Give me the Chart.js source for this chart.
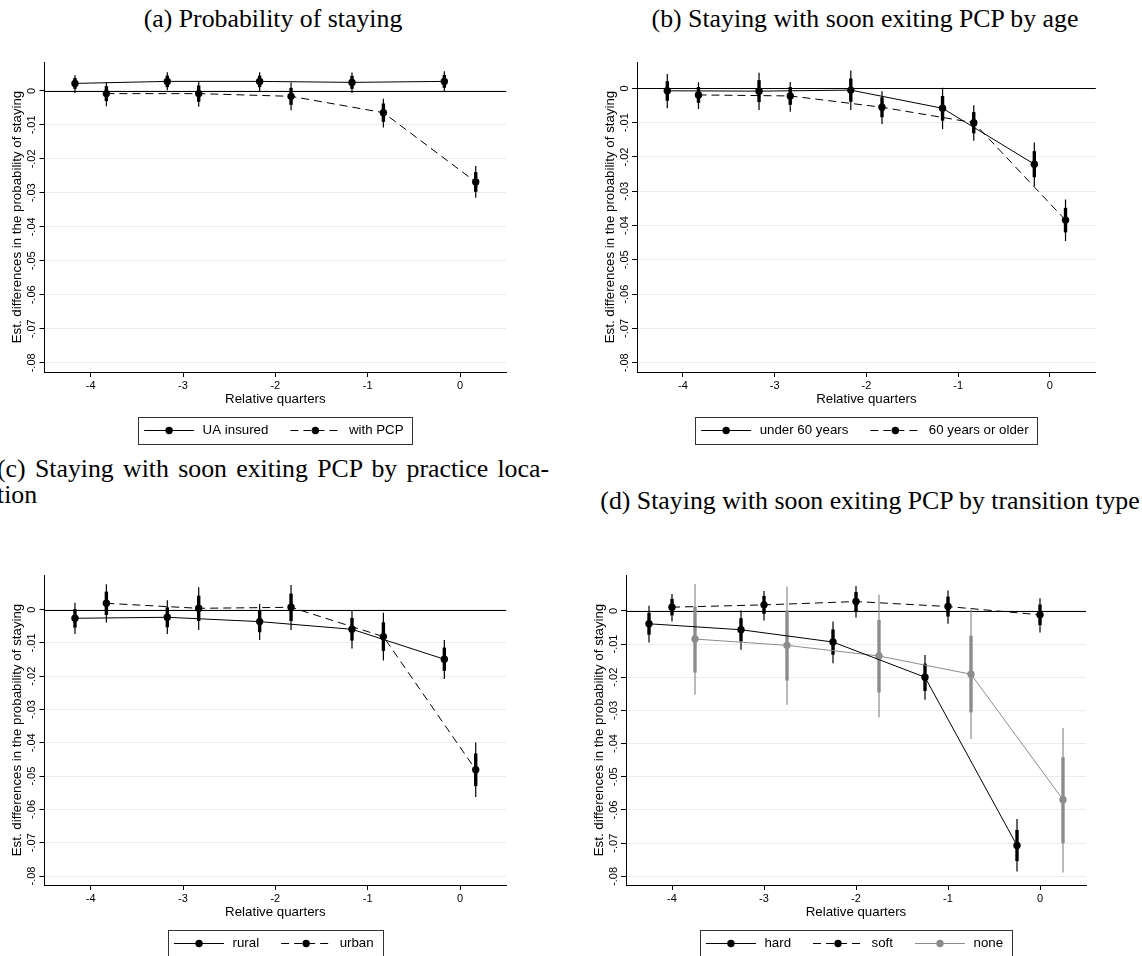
<!DOCTYPE html>
<html>
<head>
<meta charset="utf-8">
<script src="https://cdn.jsdelivr.net/npm/chart.js@4.4.1/dist/chart.umd.min.js"></script>
<style>
  html, body { margin: 0; padding: 0; background: #fff; overflow: hidden; }
  #page { position: relative; width: 1142px; height: 956px; overflow: hidden; }
  canvas { position: absolute; }
  .cap { position: absolute; font-family: 'Liberation Serif', 'Times New Roman', serif; font-size: 25.8px; line-height: 26px; color: #000; white-space: nowrap; }
  .just { white-space: normal; text-align: justify; text-align-last: justify; }
</style>
</head>
<body>
<div id="page">
  <div class="cap" style="left:-27px; top:6px; width:600px; text-align:center">(a) Probability of staying</div>
  <div class="cap" style="left:565px; top:6px; width:600px; text-align:center">(b) Staying with soon exiting PCP by age</div>
  <div class="cap just" style="left:-3px; top:456px; width:552px">(c) Staying with soon exiting PCP by practice loca-</div>
  <div class="cap" style="left:-3px; top:482px">tion</div>
  <div class="cap" style="left:570px; top:488px; width:600px; text-align:center">(d) Staying with soon exiting PCP by transition type</div>

  <canvas id="chartA" width="560" height="420" style="left:0; top:40px"></canvas>
  <canvas id="chartB" width="572" height="420" style="left:570px; top:40px"></canvas>
  <canvas id="chartC" width="560" height="416" style="left:0; top:540px"></canvas>
  <canvas id="chartD" width="572" height="416" style="left:570px; top:540px"></canvas>
</div>
<script>
// axis ticks shared by all panels
const xTicks = [-4, -3, -2, -1, 0];
const yTicks = [0, -0.01, -0.02, -0.03, -0.04, -0.05, -0.06, -0.07, -0.08];
const yTickLabels = ['0', '-.01', '-.02', '-.03', '-.04', '-.05', '-.06', '-.07', '-.08'];

// (a) Probability of staying
const xA_ua = [-4.17, -3.17, -2.17, -1.17, -0.17];
const estA_ua = [0.0022, 0.0028, 0.0028, 0.0025, 0.0028];
const hi99A_ua = [0.0046, 0.0055, 0.0055, 0.0054, 0.0058];
const lo99A_ua = [-0.0006, 0.0002, -0.0001, -0.0006, -0.0002];
const hi90A_ua = [0.0038, 0.0045, 0.0045, 0.0044, 0.0047];
const lo90A_ua = [0.0006, 0.0011, 0.0011, 0.0006, 0.0009];

const xA_pcp = [-3.83, -2.83, -1.83, -0.83, 0.17];
const estA_pcp = [-0.0008, -0.0008, -0.0016, -0.0064, -0.0268];
const hi99A_pcp = [0.0025, 0.0029, 0.0025, -0.0023, -0.0221];
const lo99A_pcp = [-0.0045, -0.0047, -0.0057, -0.0108, -0.0314];
const hi90A_pcp = [0.0014, 0.0016, 0.0009, -0.0037, -0.0239];
const lo90A_pcp = [-0.0030, -0.0032, -0.0041, -0.0091, -0.0297];

// (b) by age
const xB_young = [-4.17, -3.17, -2.17, -1.17, -0.17];
const estB_young = [-0.0007, -0.0008, -0.0005, -0.0058, -0.0221];
const hi99B_young = [0.0042, 0.0046, 0.0052, 0.0002, -0.0158];
const lo99B_young = [-0.0058, -0.0063, -0.0063, -0.0119, -0.0285];
const hi90B_young = [0.0021, 0.0024, 0.0029, -0.0022, -0.0183];
const lo90B_young = [-0.0036, -0.0040, -0.0039, -0.0094, -0.0259];

const xB_old = [-3.83, -2.83, -1.83, -0.83, 0.17];
const estB_old = [-0.0019, -0.0022, -0.0055, -0.0100, -0.0384];
const hi99B_old = [0.0018, 0.0019, -0.0008, -0.0049, -0.0324];
const lo99B_old = [-0.0060, -0.0068, -0.0104, -0.0153, -0.0445];
const hi90B_old = [0.0004, 0.0004, -0.0026, -0.0069, -0.0348];
const lo90B_old = [-0.0042, -0.0048, -0.0084, -0.0131, -0.0420];

// (c) by practice location
const xC_rural = [-4.17, -3.17, -2.17, -1.17, -0.17];
const estC_rural = [-0.0026, -0.0023, -0.0036, -0.0059, -0.0149];
const hi99C_rural = [0.0021, 0.0028, 0.0017, -0.0004, -0.0091];
const lo99C_rural = [-0.0073, -0.0073, -0.0091, -0.0117, -0.0208];
const hi90C_rural = [0.0002, 0.0007, -0.0004, -0.0025, -0.0114];
const lo90C_rural = [-0.0054, -0.0053, -0.0068, -0.0093, -0.0184];

const xC_urban = [-3.83, -2.83, -1.83, -0.83, 0.17];
const estC_urban = [0.0019, 0.0004, 0.0007, -0.0081, -0.0481];
const hi99C_urban = [0.0076, 0.0067, 0.0074, -0.0009, -0.0399];
const lo99C_urban = [-0.0039, -0.0061, -0.0061, -0.0153, -0.0563];
const hi90C_urban = [0.0054, 0.0042, 0.0048, -0.0038, -0.0432];
const lo90C_urban = [-0.0016, -0.0034, -0.0034, -0.0124, -0.0530];

// (d) by transition type
const xD_hard = [-4.25, -3.25, -2.25, -1.25, -0.25];
const estD_hard = [-0.0039, -0.0057, -0.0094, -0.0200, -0.0707];
const hi99D_hard = [0.0015, 0.0001, -0.0032, -0.0133, -0.0627];
const lo99D_hard = [-0.0095, -0.0117, -0.0158, -0.0268, -0.0785];
const hi90D_hard = [-0.0006, -0.0022, -0.0056, -0.0159, -0.0660];
const lo90D_hard = [-0.0072, -0.0092, -0.0132, -0.0241, -0.0754];

const xD_soft = [-4, -3, -2, -1, 0];
const estD_soft = [0.0011, 0.0018, 0.0028, 0.0013, -0.0012];
const hi99D_soft = [0.0051, 0.0060, 0.0075, 0.0061, 0.0038];
const lo99D_soft = [-0.0032, -0.0029, -0.0020, -0.0039, -0.0065];
const hi90D_soft = [0.0036, 0.0045, 0.0057, 0.0043, 0.0019];
const lo90D_soft = [-0.0014, -0.0009, -0.0001, -0.0017, -0.0043];

const xD_none = [-3.75, -2.75, -1.75, -0.75, 0.25];
const estD_none = [-0.0085, -0.0104, -0.0136, -0.0191, -0.0569];
const hi99D_none = [0.0081, 0.0073, 0.0049, 0.0004, -0.0353];
const lo99D_none = [-0.0253, -0.0283, -0.0321, -0.0386, -0.0788];
const hi90D_none = [0.0013, 0.0001, -0.0027, -0.0075, -0.0441];
const lo90D_none = [-0.0186, -0.0210, -0.0246, -0.0306, -0.0700];

const FONT = '"Liberation Sans", Arial, sans-serif';
Chart.defaults.font.family = FONT;
Chart.defaults.color = '#000';

const BLACK = '#000';
const GRAY = '#8c8c8c';
const DASH = [8, 5];
const TITLE_SIZE = 13.3;

function series(label, xs, est, lo99, hi99, lo90, hi90, color, dash) {
  return {
    label,
    data: xs.map((x, i) => ({ x, y: est[i] })),
    lo99, hi99, lo90, hi90,
    borderColor: color,
    backgroundColor: color,
    pointBackgroundColor: color,
    pointBorderColor: color,
    pointBorderWidth: 0,
    pointRadius: 3.7,
    borderWidth: 1,
    borderDash: dash || [],
    tension: 0
  };
}

// zero line + confidence spikes (thin = wide interval, thick = narrow interval)
const ciPlugin = {
  id: 'ciSpikes',
  beforeDatasetsDraw(chart) {
    const { ctx, chartArea: a, scales: { x, y } } = chart;
    ctx.save();
    const y0 = Math.round(y.getPixelForValue(0)) + 0.5;
    ctx.strokeStyle = '#000';
    ctx.lineWidth = 1;
    ctx.beginPath();
    ctx.moveTo(a.left, y0);
    ctx.lineTo(a.right, y0);
    ctx.stroke();
    chart.data.datasets.forEach(ds => {
      ctx.strokeStyle = ds.borderColor;
      ds.data.forEach((pt, i) => {
        const px = x.getPixelForValue(pt.x);
        ctx.lineWidth = 1.2;
        ctx.beginPath();
        ctx.moveTo(px, y.getPixelForValue(ds.hi99[i]));
        ctx.lineTo(px, y.getPixelForValue(ds.lo99[i]));
        ctx.stroke();
        ctx.lineWidth = 3.4;
        ctx.beginPath();
        ctx.moveTo(px, y.getPixelForValue(ds.hi90[i]));
        ctx.lineTo(px, y.getPixelForValue(ds.lo90[i]));
        ctx.stroke();
      });
    });
    ctx.restore();
  }
};

// rotated y tick labels, Stata style
const yLabelPlugin = {
  id: 'yLabels',
  afterDraw(chart) {
    const { ctx, scales: { y } } = chart;
    ctx.save();
    ctx.font = '11px ' + FONT;
    ctx.fillStyle = '#000';
    ctx.textAlign = 'center';
    ctx.textBaseline = 'middle';
    yTicks.forEach((v, i) => {
      ctx.save();
      ctx.translate(y.right - 12.5, y.getPixelForValue(v));
      ctx.rotate(-Math.PI / 2);
      ctx.fillText(yTickLabels[i], 0, 0);
      ctx.restore();
    });
    ctx.restore();
  }
};

// boxed legend below the x axis title
const legendPlugin = {
  id: 'boxLegend',
  afterDraw(chart) {
    const { ctx, chartArea: a } = chart;
    const items = chart.data.datasets;
    const sample = 50, gapText = 8.5, gapItem = 22, padL = 6, padR = 9, h = 27;
    ctx.save();
    ctx.font = TITLE_SIZE + 'px ' + FONT;
    const widths = items.map(d => ctx.measureText(d.label).width);
    const w = padL + padR + widths.reduce((s, tw) => s + sample + gapText + tw, 0) + gapItem * (items.length - 1);
    const left = (a.left + a.right) / 2 - w / 2;
    const top = a.bottom + 44.5;
    ctx.strokeStyle = '#333';
    ctx.lineWidth = 1;
    ctx.strokeRect(Math.round(left) + 0.5, Math.round(top) + 0.5, Math.round(w), h);
    const cy = Math.round(top + h / 2) + 0.5;
    let cx = left + padL;
    items.forEach((d, i) => {
      ctx.strokeStyle = d.borderColor;
      ctx.setLineDash(d.borderDash);
      ctx.beginPath();
      ctx.moveTo(cx, cy);
      ctx.lineTo(cx + sample, cy);
      ctx.stroke();
      ctx.setLineDash([]);
      ctx.fillStyle = d.pointBackgroundColor;
      ctx.beginPath();
      ctx.arc(cx + sample / 2, cy, 3.7, 0, Math.PI * 2);
      ctx.fill();
      ctx.fillStyle = '#000';
      ctx.textAlign = 'left';
      ctx.textBaseline = 'middle';
      ctx.fillText(d.label, cx + sample + gapText, cy);
      cx += sample + gapText + widths[i] + gapItem;
    });
    ctx.restore();
  }
};

function makePanel(id, cfg) {
  return new Chart(document.getElementById(id), {
    type: 'line',
    data: { datasets: cfg.datasets },
    options: {
      responsive: false,
      animation: false,
      devicePixelRatio: 1,
      layout: { padding: cfg.padding },
      plugins: { legend: { display: false }, tooltip: { enabled: false } },
      scales: {
        x: {
          type: 'linear',
          min: -4.5,
          max: 0.5,
          afterBuildTicks: s => { s.ticks = xTicks.map(v => ({ value: v })); },
          afterFit: s => { s.height = 40; },
          grid: { drawOnChartArea: false, drawTicks: true, tickLength: 5, tickColor: '#000' },
          border: { display: true, color: '#000', width: 1 },
          ticks: { color: '#000', font: { size: 11 }, padding: 2.7, maxRotation: 0, autoSkip: false, callback: v => String(v) },
          title: { display: true, text: 'Relative quarters', color: '#000', font: { size: TITLE_SIZE }, padding: { top: 0, bottom: 4.3 } }
        },
        y: {
          type: 'linear',
          min: cfg.yMin,
          max: cfg.yMax,
          afterBuildTicks: s => { s.ticks = yTicks.map(v => ({ value: v })); },
          afterFit: s => { s.width = cfg.axisW; },
          grid: { color: '#e6eef0', lineWidth: 1, drawTicks: true, tickLength: 5, tickColor: '#000' },
          border: { display: true, color: '#000', width: 1 },
          ticks: { display: false },
          title: { display: true, text: 'Est. differences in the probability of staying', color: '#000', font: { size: TITLE_SIZE }, padding: { top: cfg.axisW - 27 - TITLE_SIZE * 0.6, bottom: 0 } }
        }
      }
    },
    plugins: [ciPlugin, yLabelPlugin, legendPlugin]
  });
}

makePanel('chartA', {
  axisW: 44.5, yMin: -0.0827, yMax: 0.0085,
  padding: { left: 0, top: 22, right: 53.8, bottom: 48 },
  datasets: [
    series('UA insured', xA_ua, estA_ua, lo99A_ua, hi99A_ua, lo90A_ua, hi90A_ua, BLACK),
    series('with PCP', xA_pcp, estA_pcp, lo99A_pcp, hi99A_pcp, lo90A_pcp, hi90A_pcp, BLACK, DASH)
  ]
});

makePanel('chartB', {
  axisW: 67, yMin: -0.0827, yMax: 0.0077,
  padding: { left: 0, top: 22, right: 46.2, bottom: 48 },
  datasets: [
    series('under 60 years', xB_young, estB_young, lo99B_young, hi99B_young, lo90B_young, hi90B_young, BLACK),
    series('60 years or older', xB_old, estB_old, lo99B_old, hi99B_old, lo90B_old, hi90B_old, BLACK, DASH)
  ]
});

makePanel('chartC', {
  axisW: 44.5, yMin: -0.0827, yMax: 0.0104,
  padding: { left: 0, top: 35, right: 53.8, bottom: 31 },
  datasets: [
    series('rural', xC_rural, estC_rural, lo99C_rural, hi99C_rural, lo90C_rural, hi90C_rural, BLACK),
    series('urban', xC_urban, estC_urban, lo99C_urban, hi99C_urban, lo90C_urban, hi90C_urban, BLACK, DASH)
  ]
});

makePanel('chartD', {
  axisW: 56, yMin: -0.0826, yMax: 0.0108,
  padding: { left: 0, top: 35, right: 56, bottom: 31 },
  datasets: [
    series('hard', xD_hard, estD_hard, lo99D_hard, hi99D_hard, lo90D_hard, hi90D_hard, BLACK),
    series('soft', xD_soft, estD_soft, lo99D_soft, hi99D_soft, lo90D_soft, hi90D_soft, BLACK, DASH),
    series('none', xD_none, estD_none, lo99D_none, hi99D_none, lo90D_none, hi90D_none, GRAY)
  ]
});
</script>
</body>
</html>
